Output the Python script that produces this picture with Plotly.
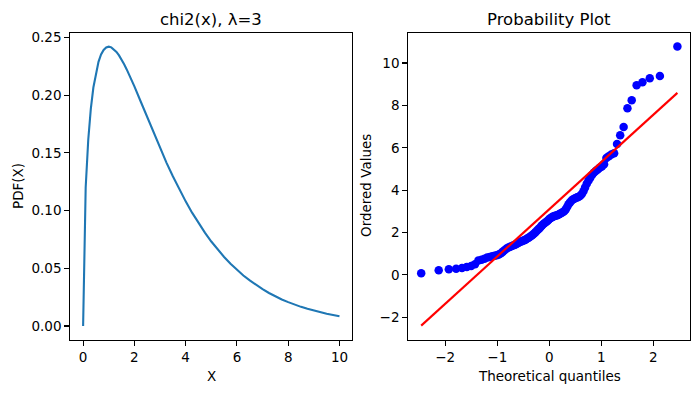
import plotly.graph_objects as go
from statistics import NormalDist

# ---- Left panel: chi2 pdf (k=3) ----
pdf_x = [0.0, 0.1, 0.2, 0.3, 0.4, 0.5, 0.6, 0.7, 0.8, 0.9, 1.0, 1.1, 1.2, 1.3, 1.4,
         1.5, 1.6, 1.7, 1.8, 1.9, 2.0, 2.25, 2.5, 2.75, 3.0, 3.25, 3.5, 3.75, 4.0,
         4.25, 4.5, 4.75, 5.0, 5.25, 5.5, 5.75, 6.0, 6.25, 6.5, 6.75, 7.0, 7.25,
         7.5, 7.75, 8.0, 8.25, 8.5, 8.75, 9.0, 9.25, 9.5, 9.75, 10.0]
pdf_y = [0.0, 0.1200, 0.1614, 0.1881, 0.2066, 0.2197, 0.2289, 0.2352, 0.2392, 0.2413,
         0.2420, 0.2414, 0.2398, 0.2374, 0.2344, 0.2308, 0.2267, 0.2223, 0.2176,
         0.2127, 0.2076, 0.1943, 0.1807, 0.1673, 0.1542, 0.1416, 0.1297, 0.1185,
         0.1080, 0.0982, 0.0892, 0.0809, 0.0732, 0.0662, 0.0598, 0.0540, 0.0487,
         0.0438, 0.0395, 0.0355, 0.0319, 0.0286, 0.0257, 0.0230, 0.0207, 0.0185,
         0.0166, 0.0149, 0.0133, 0.0119, 0.0106, 0.0095, 0.0085]

# ---- Right panel: ordered sample values (n=100) ----
ordered_values = [
    0.08, 0.22, 0.27, 0.29, 0.33, 0.38, 0.42, 0.50, 0.68, 0.72,
    0.76, 0.82, 0.85, 0.88, 0.91, 0.93, 0.97, 1.02, 1.10, 1.18,
    1.25, 1.29, 1.33, 1.36, 1.40, 1.43, 1.47, 1.51, 1.55, 1.58,
    1.61, 1.64, 1.67, 1.72, 1.76, 1.80, 1.85, 1.90, 1.96, 2.02,
    2.08, 2.14, 2.20, 2.27, 2.34, 2.40, 2.45, 2.50, 2.55, 2.60,
    2.66, 2.70, 2.74, 2.77, 2.79, 2.81, 2.83, 2.86, 2.90, 2.93,
    2.97, 3.02, 3.10, 3.22, 3.34, 3.42, 3.50, 3.56, 3.60, 3.63,
    3.66, 3.69, 3.74, 3.82, 3.95, 4.12, 4.30, 4.45, 4.58, 4.72,
    4.82, 4.90, 4.98, 5.06, 5.12, 5.22, 5.52, 5.60, 5.68, 5.74,
    6.18, 6.59, 6.98, 7.86, 8.24, 8.95, 9.09, 9.28, 9.39, 10.78,
]
fit_slope = 2.23
fit_intercept = 3.10

left_ticks_x = [0, 2, 4, 6, 8, 10]
left_ticks_y = [0.00, 0.05, 0.10, 0.15, 0.20, 0.25]
right_ticks_x = [-2, -1, 0, 1, 2]
right_ticks_y = [-2, 0, 2, 4, 6, 8, 10]

# theoretical quantiles (Filliben order statistic medians), as in a probability plot
n = len(ordered_values)
nd = NormalDist()
m = []
for i in range(1, n + 1):
    if i == 1:
        m.append(1 - 0.5 ** (1 / n))
    elif i == n:
        m.append(0.5 ** (1 / n))
    else:
        m.append((i - 0.3175) / (n + 0.365))
theo_q = [nd.inv_cdf(p) for p in m]
line_x = [theo_q[0], theo_q[-1]]
line_y = [fit_intercept + fit_slope * x for x in line_x]

W, H = 700, 393
FONT = "DejaVu Sans"

fig = go.Figure()
fig.add_trace(go.Scatter(x=pdf_x, y=pdf_y, mode="lines",
                         line=dict(color="#1f77b4", width=2.1),
                         xaxis="x", yaxis="y", showlegend=False))
fig.add_trace(go.Scatter(x=theo_q, y=ordered_values, mode="markers",
                         marker=dict(color="#0000ff", size=8.5, line=dict(width=0)),
                         xaxis="x2", yaxis="y2", showlegend=False))
fig.add_trace(go.Scatter(x=line_x, y=line_y, mode="lines",
                         line=dict(color="#ff0000", width=2.1),
                         xaxis="x2", yaxis="y2", showlegend=False))

ax_common = dict(showline=True, mirror=True, linecolor="black", linewidth=1.1,
                 ticks="outside", ticklen=5, tickwidth=1.1, tickcolor="black",
                 showgrid=False, zeroline=False, automargin=False,
                 tickfont=dict(family=FONT, size=13.5, color="black"))

ytop = 1 - 32.7 / H
ybot = 1 - 340 / H
L1, R1 = 70.3 / W, 352.3 / W
L2, R2 = 408.3 / W, 690.3 / W

fig.update_layout(
    width=W, height=H,
    margin=dict(l=0, r=0, t=0, b=0, pad=0),
    paper_bgcolor="white", plot_bgcolor="white",
    font=dict(family=FONT, color="black"),
    hovermode=False,
    xaxis=dict(domain=[L1, R1], range=[-0.5, 10.5], tickvals=left_ticks_x,
               anchor="y", **ax_common),
    yaxis=dict(domain=[ybot, ytop], range=[-0.0121, 0.2541], tickvals=left_ticks_y,
               tickformat=".2f", anchor="x", **ax_common),
    xaxis2=dict(domain=[L2, R2], range=[-2.71, 2.71], tickvals=right_ticks_x,
                tickformat="d", anchor="y2", **ax_common),
    yaxis2=dict(domain=[ybot, ytop], range=[-3.07, 11.43], tickvals=right_ticks_y,
                tickformat="d", anchor="x2", **ax_common),
)

def ann(text, x, y, size, angle=0, xanchor="center", yanchor="middle"):
    fig.add_annotation(text=text, x=x / W, y=1 - y / H, xref="paper", yref="paper",
                       showarrow=False, textangle=angle, xanchor=xanchor,
                       yanchor=yanchor, font=dict(family=FONT, size=size, color="black"))

ann("chi2(x), λ=3", (70.3 + 352.3) / 2, 19, 16.5)
ann("Probability Plot", (408.3 + 690.3) / 2, 19, 16.5)
ann("X", (70.3 + 352.3) / 2, 376, 13.5)
ann("Theoretical quantiles", (408.3 + 690.3) / 2, 376, 13.5)
ann("PDF(X)", 18, 186, 13.5, angle=-90)
ann("Ordered Values", 366, 186, 13.5, angle=-90)

fig.write_html("out.html",
               config={"displayModeBar": False, "staticPlot": True},
               post_script="document.body.style.margin='0';document.body.style.overflow='hidden';")
